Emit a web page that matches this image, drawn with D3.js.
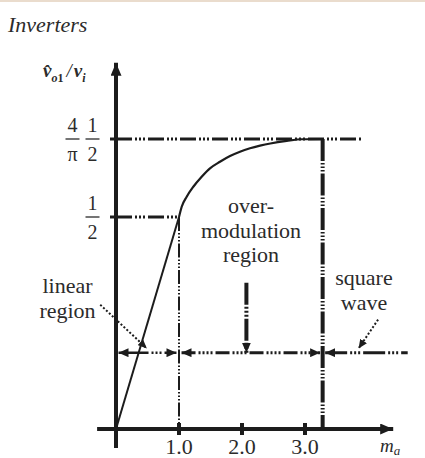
<!DOCTYPE html>
<html>
<head>
<meta charset="utf-8">
<script src="https://cdn.jsdelivr.net/npm/d3@7"></script>
<style>
  html, body { margin: 0; padding: 0; background: #fff; }
  svg { display: block; }
  text { font-family: "Liberation Serif", "Times New Roman", serif; fill: #2b2b2b; }
</style>
</head>
<body>
<script>
// Amplitude modulation index m_a and normalised fundamental output v̂o1 / Vi
const linearM = [0, 1.0];
const linearV = [0, 0.5];
const overM = [1.0, 1.043, 1.122, 1.227, 1.36, 1.492, 1.65, 1.81, 1.968, 2.127, 2.286, 2.45, 2.71, 2.95, 3.28];
const overV = [0.5, 0.518, 0.5355, 0.553, 0.5706, 0.5853, 0.5968, 0.6068, 0.6144, 0.6203, 0.6249, 0.6288, 0.6333, 0.6362, 0.6366];

const xTicks = [1.0, 2.0, 3.0];
const xTickLabels = ["1.0", "2.0", "3.0"];
const yLevels = [0.5, 2 / Math.PI];          // 1/2 and (4/π)(1/2)
const squareWaveM = 3.28;                      // start of square-wave operation
const regionBounds = [0, 1.0, 3.28, 4.63];     // linear | over-modulation | square wave
const regionRowV = 0.18;                       // height of the region arrows

const W = 425, H = 458;
const svg = d3.select("body").append("svg").attr("width", W).attr("height", H);

// Piecewise vertical scale: the sketch is not drawn to scale between 1/2 and 4/π·1/2
const x = d3.scaleLinear().domain([0, 3]).range([116, 305]);
const y = d3.scaleLinear().domain([0, 0.5, 2 / Math.PI]).range([429, 217, 139]);

const ink = "#1c1c1c";

// faint paper edge along the top
svg.append("rect").attr("x", 0).attr("y", 0).attr("width", W).attr("height", 2)
  .attr("fill", "#eadccd");

const defs = svg.append("defs");
function marker(id, len, half) {
  defs.append("marker")
    .attr("id", id)
    .attr("markerUnits", "userSpaceOnUse")
    .attr("viewBox", `0 ${-half} ${len} ${2 * half}`)
    .attr("refX", len).attr("refY", 0)
    .attr("markerWidth", len).attr("markerHeight", 2 * half)
    .attr("orient", "auto-start-reverse")
    .append("path")
    .attr("d", `M0,${-half}L${len},0L0,${half}Z`)
    .attr("fill", ink);
}
marker("axisHead", 13, 5.5);
marker("head", 10, 4.5);
marker("smallHead", 9, 4);

// Title
svg.append("text").attr("x", 8).attr("y", 32)
  .attr("font-size", 22).attr("font-style", "italic")
  .attr("fill", "#2a2a38")
  .text("Inverters");

// Axes
svg.append("line")
  .attr("x1", x(-0.3)).attr("x2", x(4.4))
  .attr("y1", y(0)).attr("y2", y(0))
  .attr("stroke", ink).attr("stroke-width", 4)
  .attr("marker-end", "url(#axisHead)");
svg.append("line")
  .attr("x1", x(0)).attr("x2", x(0))
  .attr("y1", y(-0.045)).attr("y2", y(0.77))
  .attr("stroke", ink).attr("stroke-width", 4)
  .attr("marker-end", "url(#axisHead)");

// x ticks
svg.selectAll("line.xtick").data(xTicks).join("line")
  .attr("class", "xtick")
  .attr("x1", d => x(d)).attr("x2", d => x(d))
  .attr("y1", y(0) - 6).attr("y2", y(0) + 6)
  .attr("stroke", ink).attr("stroke-width", 4);
svg.selectAll("text.xlab").data(xTicks).join("text")
  .attr("class", "xlab")
  .attr("x", d => x(d)).attr("y", 454)
  .attr("text-anchor", "middle").attr("font-size", 22)
  .text((d, i) => xTickLabels[i]);

// x-axis title m_a
const mx = svg.append("text").attr("x", 380).attr("y", 452)
  .attr("font-size", 19).attr("font-style", "italic");
mx.append("tspan").text("m");
mx.append("tspan").attr("font-size", 13).attr("dy", 3).text("a");

// y-axis title v̂o1 / Vi
const vy = svg.append("text").attr("x", 43).attr("y", 77)
  .attr("font-size", 19).attr("font-style", "italic").attr("font-weight", "bold");
vy.append("tspan").text("v\u0302");
vy.append("tspan").attr("font-size", 12).attr("dy", 5).text("o");
vy.append("tspan").attr("font-size", 12).attr("font-style", "normal").text("1");
vy.append("tspan").attr("dy", -5).attr("dx", 3).attr("font-weight", "normal").text("/");
vy.append("tspan").attr("dx", 2).text("v");
vy.append("tspan").attr("font-size", 12).attr("dy", 5).text("i");

// y tick stubs
svg.selectAll("line.ytick").data(yLevels).join("line")
  .attr("class", "ytick")
  .attr("x1", x(0) - 6).attr("x2", x(0))
  .attr("y1", d => y(d)).attr("y2", d => y(d))
  .attr("stroke", ink).attr("stroke-width", 3);

// y level labels as stacked fractions
function fraction(cx, cy, top, bottom) {
  svg.append("text").attr("x", cx).attr("y", cy - 7)
    .attr("text-anchor", "middle").attr("font-size", 20).text(top);
  svg.append("text").attr("x", cx).attr("y", cy + 22)
    .attr("text-anchor", "middle").attr("font-size", 20).text(bottom);
  svg.append("line").attr("x1", cx - 7).attr("x2", cx + 7)
    .attr("y1", cy).attr("y2", cy)
    .attr("stroke", "#2b2b2b").attr("stroke-width", 1.3);
}
fraction(72.5, y(yLevels[1]), "4", "\u03C0");
fraction(92.5, y(yLevels[1]), "1", "2");
fraction(92.5, y(yLevels[0]), "1", "2");

// Guide lines (dash-dot-dot)
const dashDot = "16,3,2,2,2,2,2,3";
svg.append("line")
  .attr("x1", x(0)).attr("x2", x(1.0))
  .attr("y1", y(0.5)).attr("y2", y(0.5))
  .attr("stroke", ink).attr("stroke-width", 3)
  .attr("stroke-dasharray", dashDot);
svg.append("line")
  .attr("x1", x(0)).attr("x2", x(3.9))
  .attr("y1", y(2 / Math.PI)).attr("y2", y(2 / Math.PI))
  .attr("stroke", ink).attr("stroke-width", 3)
  .attr("stroke-dasharray", dashDot);
svg.append("line")
  .attr("x1", x(1.0)).attr("x2", x(1.0))
  .attr("y1", y(0.5)).attr("y2", y(0))
  .attr("stroke", ink).attr("stroke-width", 2)
  .attr("stroke-dasharray", "14,2,1.5,2,1.5,2,1.5,2");
svg.append("line")
  .attr("x1", x(squareWaveM)).attr("x2", x(squareWaveM))
  .attr("y1", y(2 / Math.PI)).attr("y2", y(0))
  .attr("stroke", ink).attr("stroke-width", 4)
  .attr("stroke-dasharray", "22,2,1.5,2,1.5,2,1.5,2");

// Characteristic: linear region then over-modulation
const line = d3.line().x(d => x(d[0])).y(d => y(d[1]));
svg.append("path")
  .datum(linearM.map((m, i) => [m, linearV[i]]))
  .attr("d", line)
  .attr("fill", "none").attr("stroke", ink).attr("stroke-width", 2);
svg.append("path")
  .datum(overM.map((m, i) => [m, overV[i]]))
  .attr("d", line.curve(d3.curveMonotoneX))
  .attr("fill", "none").attr("stroke", ink).attr("stroke-width", 2.2);

// Region arrows
const rowY = y(regionRowV);
const gap = 0.04;
svg.append("line")
  .attr("x1", x(regionBounds[0] + gap)).attr("x2", x(regionBounds[1] - gap))
  .attr("y1", rowY).attr("y2", rowY)
  .attr("stroke", ink).attr("stroke-width", 2.5)
  .attr("stroke-dasharray", "30,3,2,2,2,2,2,3")
  .attr("marker-start", "url(#head)").attr("marker-end", "url(#head)");
svg.append("line")
  .attr("x1", x(regionBounds[1] + gap)).attr("x2", x(regionBounds[2] - gap))
  .attr("y1", rowY).attr("y2", rowY)
  .attr("stroke", ink).attr("stroke-width", 3)
  .attr("stroke-dasharray", "14,3,2,2,2,2,2,2,2,3")
  .attr("marker-start", "url(#head)").attr("marker-end", "url(#head)");
svg.append("line")
  .attr("x1", x(regionBounds[2] + gap)).attr("x2", x(regionBounds[3]))
  .attr("y1", rowY).attr("y2", rowY)
  .attr("stroke", ink).attr("stroke-width", 3)
  .attr("stroke-dasharray", "22,3,2,2,2,2,2,3")
  .attr("marker-start", "url(#head)");

// Over-modulation pointer
const midM = 2.07;
svg.append("line")
  .attr("x1", x(midM)).attr("x2", x(midM))
  .attr("y1", y(0.345)).attr("y2", rowY)
  .attr("stroke", ink).attr("stroke-width", 4)
  .attr("stroke-dasharray", "22,2,2,2,2,2,2,2")
  .attr("marker-end", "url(#head)");

// Dotted leaders from the side labels
svg.append("line")
  .attr("x1", x(-0.25)).attr("y1", y(0.293))
  .attr("x2", x(0.49)).attr("y2", y(0.19))
  .attr("stroke", ink).attr("stroke-width", 2)
  .attr("stroke-dasharray", "2,2")
  .attr("marker-end", "url(#smallHead)");
svg.append("line")
  .attr("x1", x(4.16)).attr("y1", y(0.258))
  .attr("x2", x(3.85)).attr("y2", y(0.19))
  .attr("stroke", ink).attr("stroke-width", 2)
  .attr("stroke-dasharray", "2,2")
  .attr("marker-end", "url(#smallHead)");

// Region captions
function caption(cx, baseY, lines) {
  const t = svg.append("text").attr("text-anchor", "middle").attr("font-size", 22);
  lines.forEach((s, i) => t.append("tspan").attr("x", cx).attr("y", baseY + i * 24.5).text(s));
}
caption(251, 213, ["over-", "modulation", "region"]);
caption(67.5, 293, ["linear", "region"]);
caption(364, 285, ["square", "wave"]);
</script>
</body>
</html>
